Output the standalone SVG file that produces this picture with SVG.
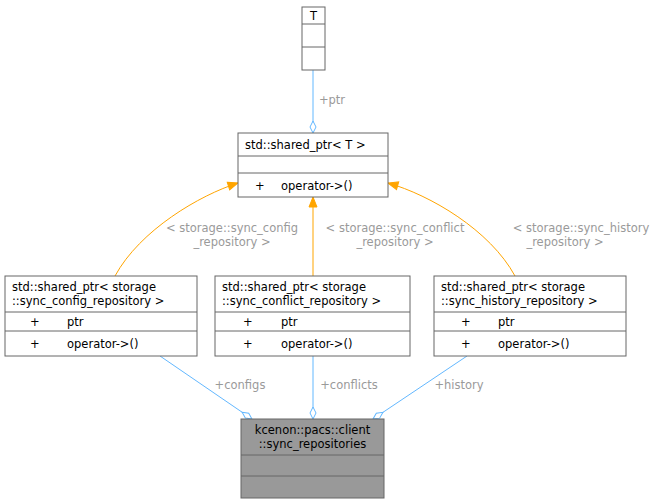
<svg xmlns="http://www.w3.org/2000/svg" width="667" height="504" viewBox="0 0 667 504">
<style>
text{font-family:"DejaVu Sans",sans-serif;font-size:11.5px;fill:#000}
.box{fill:#fff;stroke:#666;stroke-width:1}
.ln{stroke:#666;stroke-width:1}
.lbl{fill:#9a9a9a;text-anchor:middle}
.b{stroke:#63b8ff;fill:none;stroke-width:1}
.o{stroke:#ffa500;fill:none;stroke-width:1}
</style>
<defs>
<marker id="dia" viewBox="0 0 14 8" refX="13" refY="4" markerWidth="14" markerHeight="8" orient="auto" markerUnits="userSpaceOnUse"><path d="M1,4 L7,1 L13,4 L7,7 Z" fill="#fff" stroke="#63b8ff"/></marker>
<marker id="arr" viewBox="0 0 12 10" refX="11" refY="5" markerWidth="12" markerHeight="10" orient="auto" markerUnits="userSpaceOnUse"><path d="M1,1 L11,5 L1,9 Z" fill="#ffa500" stroke="#ffa500"/></marker>
</defs>
<g id="connectors">
<path class="b" d="M313,70 L313,133" marker-end="url(#dia)"/>
<text class="lbl" x="332" y="104">+ptr</text>
<path class="o" d="M115,276 C140,230 200,195 238,183" marker-end="url(#arr)"/>
<text class="lbl" x="232" y="232">&lt; storage::sync_config</text>
<text class="lbl" x="232" y="246">_repository &gt;</text>
<path class="o" d="M313,276 L313,197" marker-end="url(#arr)"/>
<text class="lbl" x="395" y="232">&lt; storage::sync_conflict</text>
<text class="lbl" x="395" y="246">_repository &gt;</text>
<path class="o" d="M515,276 C490,230 430,195 388,183" marker-end="url(#arr)"/>
<text class="lbl" x="581" y="232">&lt; storage::sync_history</text>
<text class="lbl" x="565" y="246">_repository &gt;</text>
<path class="b" d="M160,356 L252,419" marker-end="url(#dia)"/>
<text class="lbl" x="240" y="389">+configs</text>
<path class="b" d="M313,356 L313,419" marker-end="url(#dia)"/>
<text class="lbl" x="349" y="389">+conflicts</text>
<path class="b" d="M467,356 L373,419" marker-end="url(#dia)"/>
<text class="lbl" x="459" y="389">+history</text>
</g>
<g id="T">
<rect class="box" x="302" y="7" width="23" height="63"/>
<line class="ln" x1="302" y1="24" x2="325" y2="24"/><line class="ln" x1="302" y1="47" x2="325" y2="47"/>
<text x="313.5" y="20" text-anchor="middle">T</text>
</g>
<g id="sharedT">
<rect class="box" x="238" y="133" width="150" height="64"/>
<line class="ln" x1="238" y1="156" x2="388" y2="156"/><line class="ln" x1="238" y1="173" x2="388" y2="173"/>
<text x="245" y="149">std::shared_ptr&lt; T &gt;</text>
<text x="255" y="190">+</text><text x="281" y="190">operator-&gt;()</text>
</g>
<g id="cfg">
<rect class="box" x="5" y="276" width="192" height="80"/>
<line class="ln" x1="5" y1="312" x2="197" y2="312"/><line class="ln" x1="5" y1="331" x2="197" y2="331"/>
<text x="12" y="291">std::shared_ptr&lt; storage</text>
<text x="12" y="305">::sync_config_repository &gt;</text>
<text x="30" y="326">+</text><text x="67" y="326">ptr</text>
<text x="30" y="348">+</text><text x="67" y="348">operator-&gt;()</text>
</g>
<g id="conf">
<rect class="box" x="215" y="276" width="195" height="80"/>
<line class="ln" x1="215" y1="312" x2="410" y2="312"/><line class="ln" x1="215" y1="331" x2="410" y2="331"/>
<text x="222" y="291">std::shared_ptr&lt; storage</text>
<text x="222" y="305">::sync_conflict_repository &gt;</text>
<text x="243" y="326">+</text><text x="281" y="326">ptr</text>
<text x="243" y="348">+</text><text x="281" y="348">operator-&gt;()</text>
</g>
<g id="hist">
<rect class="box" x="434" y="276" width="192" height="80"/>
<line class="ln" x1="434" y1="312" x2="626" y2="312"/><line class="ln" x1="434" y1="331" x2="626" y2="331"/>
<text x="441" y="291">std::shared_ptr&lt; storage</text>
<text x="441" y="305">::sync_history_repository &gt;</text>
<text x="461" y="326">+</text><text x="498" y="326">ptr</text>
<text x="461" y="348">+</text><text x="498" y="348">operator-&gt;()</text>
</g>
<g id="repos">
<rect x="241" y="419" width="143" height="79" fill="#999" stroke="#666"/>
<line class="ln" x1="241" y1="455" x2="384" y2="455"/><line class="ln" x1="241" y1="476" x2="384" y2="476"/>
<text x="312.5" y="434" text-anchor="middle">kcenon::pacs::client</text>
<text x="312.5" y="448" text-anchor="middle">::sync_repositories</text>
</g>
</svg>
